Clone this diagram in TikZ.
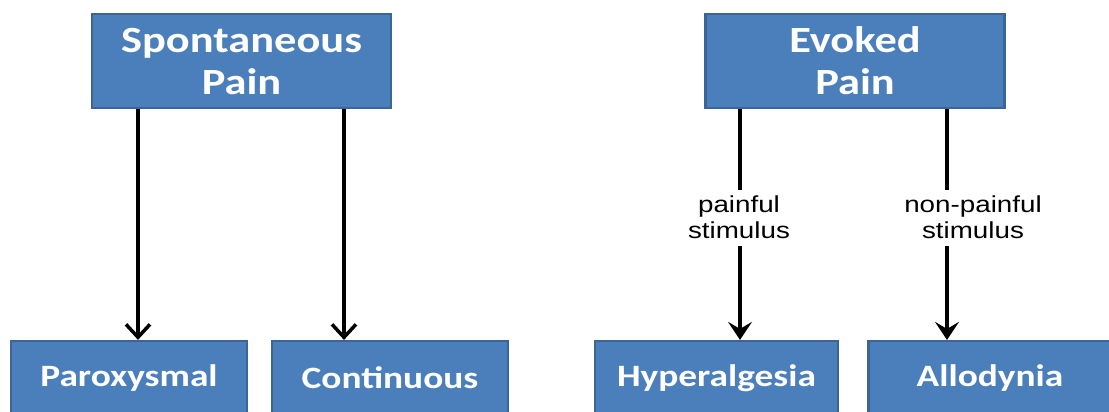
\documentclass[tikz,border=0pt]{standalone}
\usepackage{fontspec}
\usepackage{graphicx}
\setmainfont{Carlito}
\newfontfamily\labfont{Liberation Sans}
\usetikzlibrary{arrows.meta}
\definecolor{boxblue}{HTML}{4A7FBC}
\definecolor{boxedge}{HTML}{3A6594}
\newcommand{\vsq}[1]{\scalebox{1.01}[0.84]{#1}}
\tikzset{
  topbox/.style={rectangle, fill=boxblue, draw=boxedge, line width=2.2pt,
    minimum width=299pt, minimum height=94pt, inner sep=0pt},
  toptext/.style={inner sep=0pt, text=white,
    font=\fontsize{44}{50}\selectfont\bfseries},
  botbox/.style={rectangle, fill=boxblue, draw=boxedge, line width=2.2pt,
    minimum height=74pt, inner sep=0pt, text=white,
    font=\fontsize{37}{44}\selectfont\bfseries},
  lab/.style={inner sep=0pt, text=black, font=\labfont\fontsize{27.5}{31}\selectfont},
  arrA/.style={line width=3.5pt, -{Straight Barb[length=13pt,width=24pt,line width=3.5pt]}},
  arrB/.style={line width=3.5pt, -{Stealth[length=18pt,width=24pt,inset=7pt]}},
  seg/.style={line width=3.5pt}
}
\begin{document}
\begin{tikzpicture}[x=1pt,y=-1pt]
\useasboundingbox (0,0) rectangle (1109,412);
\clip (0,0) rectangle (1109,412);
% top boxes
\node[topbox] (sp) at (241.5,61) {};
\node[toptext] (spt) at ([yshift=-4pt]sp.center) {\vsq{\begin{tabular}{@{}c@{}}Spontaneous\\Pain\end{tabular}}};
\node[topbox] (ev) at (855,61) {};
\node[toptext] (evt) at ([yshift=-4pt]ev.center) {\vsq{\begin{tabular}{@{}c@{}}Evoked\\Pain\end{tabular}}};
% bottom boxes
\node[botbox, minimum width=236pt] (par) at (129,378) {\vsq{Paroxysmal}};
\node[botbox, minimum width=236pt] (con) at (390,378) {\vsq{Continuous}};
\node[botbox, minimum width=243pt] (hyp) at (716.5,378) {\vsq{Hyperalgesia}};
\node[botbox, minimum width=243pt] (all) at (990,378) {\vsq{Allodynia}};
% labels
\node[lab] (l1) at (739,220) {\vsq{\begin{tabular}{@{}c@{}}painful\\stimulus\end{tabular}}};
\node[lab] (l2) at (973,220) {\vsq{\begin{tabular}{@{}c@{}}non-painful\\stimulus\end{tabular}}};
% coordinates
\coordinate (a1) at (138,0);
\coordinate (a2) at (344,0);
\coordinate (b1t) at (740,190);
\coordinate (b1b) at (740,246);
\coordinate (b2t) at (947,190);
\coordinate (b2b) at (947,246);
% connectors
\draw[arrA] (sp.south -| a1) -- (par.north -| a1);
\draw[arrA] (sp.south -| a2) -- (con.north -| a2);
\draw[seg] (ev.south -| b1t) -- (b1t);
\draw[arrB] (b1b) -- (hyp.north -| b1b);
\draw[seg] (ev.south -| b2t) -- (b2t);
\draw[arrB] (b2b) -- (all.north -| b2b);
\end{tikzpicture}
\end{document}
